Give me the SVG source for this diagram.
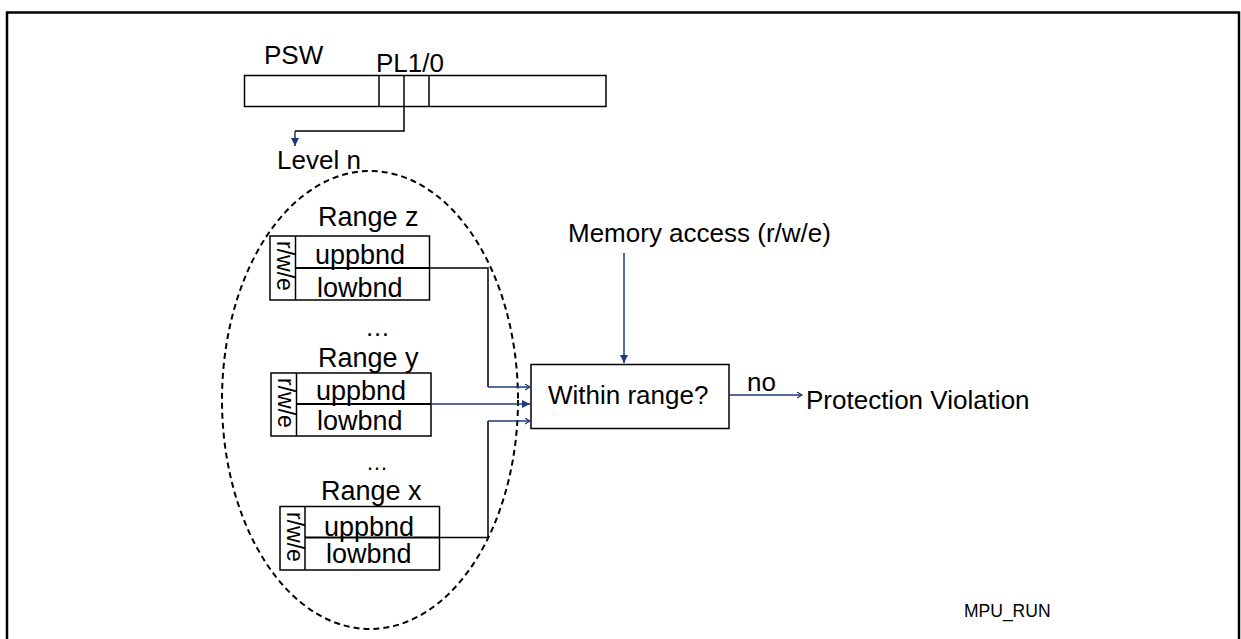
<svg xmlns="http://www.w3.org/2000/svg" width="1241" height="639" viewBox="0 0 1241 639">
<style>
text{font-family:"Liberation Sans",Arial,sans-serif;fill:#000}
.t26{font-size:26px}
.t27{font-size:27px}
.dots{font-size:25px}
.rwe{font-size:23px}
.box{fill:#fff;stroke:#000;stroke-width:1.5}
.mid{stroke:#000;stroke-width:2}
.blk{fill:none;stroke:#000;stroke-width:1.5}
.blu{fill:none;stroke:#1c3a7a;stroke-width:1.5}
</style>
<defs>
<marker id="af" markerUnits="userSpaceOnUse" markerWidth="10" markerHeight="10" refX="8" refY="4" orient="auto">
<path d="M0,0 L8,4 L0,8 Z" fill="#1c3a7a"/>
</marker>
<marker id="ao" markerUnits="userSpaceOnUse" markerWidth="8" markerHeight="8" refX="5" refY="3" orient="auto">
<path d="M0,0 L5,3 L0,6" fill="none" stroke="#1c3a7a" stroke-width="1.2"/>
</marker>
</defs>
<rect x="0" y="0" width="1241" height="639" fill="#fff"/>
<rect x="7" y="12.5" width="1232" height="640" fill="none" stroke="#000" stroke-width="2.5"/>

<g id="psw">
<text class="t26" x="264" y="64">PSW</text>
<text class="t26" x="376" y="72">PL1/0</text>
<rect class="box" x="244.5" y="75.5" width="361.5" height="31"/>
<line class="blk" x1="379" y1="75.5" x2="379" y2="106.5"/>
<line class="blk" x1="404" y1="75.5" x2="404" y2="106.5"/>
<line class="blk" x1="429" y1="75.5" x2="429" y2="106.5"/>
</g>

<g id="level">
<text class="t26" x="277" y="169">Level n</text>
<ellipse cx="370" cy="400" rx="148" ry="229" fill="none" stroke="#000" stroke-width="2" stroke-dasharray="6 4"/>
</g>

<g id="range-z">
<text class="t27" x="318" y="226">Range z</text>
<rect class="box" x="270" y="236" width="159.5" height="64"/>
<line class="blk" x1="295.5" y1="236" x2="295.5" y2="300"/>
<line class="mid" x1="295.5" y1="268" x2="429.5" y2="268"/>
<text class="rwe" transform="translate(277,241) rotate(90)">r/w/e</text>
<text class="t27" x="315" y="264">uppbnd</text>
<text class="t27" x="317" y="297">lowbnd</text>
</g>

<g id="range-y">
<text class="dots" x="365" y="336">…</text>
<text class="t27" x="318" y="367">Range y</text>
<rect class="box" x="271" y="373" width="160" height="63"/>
<line class="blk" x1="296.5" y1="373" x2="296.5" y2="436"/>
<line class="mid" x1="296.5" y1="404" x2="431" y2="404"/>
<text class="rwe" transform="translate(278,378) rotate(90)">r/w/e</text>
<text class="t27" x="316" y="400">uppbnd</text>
<text class="t27" x="317" y="430">lowbnd</text>
</g>

<g id="range-x">
<text x="366" y="470" style="font-size:22px">…</text>
<text class="t27" x="321" y="500">Range x</text>
<rect class="box" x="280" y="506.5" width="159.5" height="63.5"/>
<line class="blk" x1="305" y1="506.5" x2="305" y2="570"/>
<line class="mid" x1="305" y1="537.5" x2="439.5" y2="537.5"/>
<text class="rwe" transform="translate(287,512) rotate(90)">r/w/e</text>
<text class="t27" x="324" y="536">uppbnd</text>
<text class="t27" x="326" y="563">lowbnd</text>
</g>

<g id="memory-access">
<text class="t26" x="568" y="242">Memory access (r/w/e)</text>
</g>

<g id="within-range">
<rect class="box" x="531" y="364.5" width="198" height="64"/>
<text class="t26" x="548" y="404">Within range?</text>
</g>

<g id="violation">
<text class="t26" x="747" y="391">no</text>
<text class="t26" x="806" y="409">Protection Violation</text>
</g>

<g id="label">
<text x="964" y="617" style="font-size:17.5px">MPU_RUN</text>
</g>

<g id="connectors">
<path class="blk" d="M404,106.5 V131 H295"/>
<path class="blu" d="M295,131 V146" marker-end="url(#af)"/>
<path class="blk" d="M429.5,268 H488 V387"/>
<path class="blu" d="M488,387 H530" marker-end="url(#ao)"/>
<path class="blu" d="M431,404 H530" marker-end="url(#af)"/>
<path class="blk" d="M439.5,537.5 H488 V421"/>
<path class="blu" d="M488,421 H530" marker-end="url(#ao)"/>
<path class="blu" d="M624,253 V363" marker-end="url(#af)"/>
<path class="blu" d="M729,395 H802" marker-end="url(#ao)"/>
</g>
</svg>
